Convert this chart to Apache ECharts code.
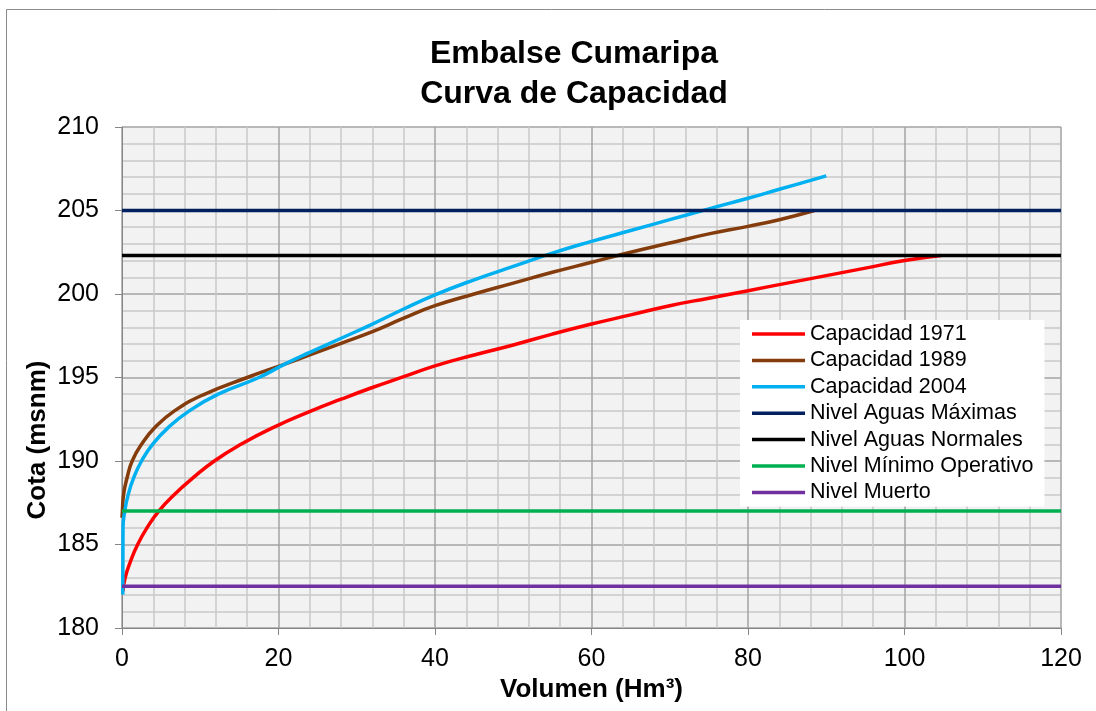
<!DOCTYPE html>
<html>
<head>
<meta charset="utf-8">
<script src="https://cdn.jsdelivr.net/npm/echarts@6/dist/echarts.min.js"></script>
<style>
html,body{margin:0;padding:0;background:#fff;}
#chart{width:1096px;height:711px;}
</style>
</head>
<body>
<div id="chart"></div>
<script>
// Volumen (Hm3) and Cota (msnm)
const vol1971 = [0.12, 0.4, 1.1, 2.0, 3.2, 4.7, 6.7, 9.1, 11.8, 15.2, 19.3, 24.2, 28, 32, 36, 40, 45, 50, 55, 60, 65, 70, 75, 80, 85, 90, 95, 100, 104.7];
const cota1971 = [182.2, 183.0, 184.0, 185.0, 186.0, 187.0, 188.0, 189.0, 190.0, 191.0, 192.0, 193.0, 193.7, 194.4, 195.05, 195.7, 196.35, 196.95, 197.6, 198.2, 198.75, 199.3, 199.75, 200.2, 200.65, 201.1, 201.55, 202.0, 202.3];

const vol1989 = [0, 0.05, 0.2, 0.65, 1.3, 2.5, 4.2, 6.7, 10.3, 16, 20.8, 24, 28, 32, 36, 40, 45, 50, 55, 60, 65, 70, 75, 80, 84, 88.5];
const cota1989 = [186.6, 187.0, 188.0, 189.0, 190.0, 191.0, 192.0, 193.0, 193.95, 195.0, 195.8, 196.35, 197.05, 197.75, 198.55, 199.3, 200.0, 200.65, 201.3, 201.9, 202.5, 203.05, 203.6, 204.05, 204.45, 205.0];

const vol2004 = [0.1, 0.13, 0.35, 0.8, 1.5, 2.5, 3.9, 5.9, 8.6, 12.3, 17.5, 20.8, 24, 28, 32, 36, 40, 45, 50, 55, 60, 65, 70, 75, 80, 84, 88, 90];
const cota2004 = [182.0, 186.0, 187.0, 188.0, 189.0, 190.0, 191.0, 192.0, 193.0, 194.0, 195.0, 195.8, 196.5, 197.35, 198.2, 199.1, 199.95, 200.85, 201.65, 202.45, 203.15, 203.8, 204.45, 205.1, 205.73, 206.27, 206.8, 207.07];

const levelNames = ['Nivel Aguas Máximas', 'Nivel Aguas Normales', 'Nivel Mínimo Operativo', 'Nivel Muerto'];
const levelValues = [205, 202.3, 187, 182.5];
const levelRange = [0, 120];

const curveNames = ['Capacidad 1971', 'Capacidad 1989', 'Capacidad 2004'];

const xTicks = [0, 120, 20];
const yTicks = [180, 210, 5];

function pairs(xs, ys) { return xs.map((x, i) => [x, ys[i]]); }

const curveColors = ['#ff0000', '#843c0c', '#00b0f0'];
const levelColors = ['#002060', '#000000', '#00b050', '#7030a0'];

const series = [];
[[vol1971, cota1971], [vol1989, cota1989], [vol2004, cota2004]].forEach((d, i) => {
  series.push({
    name: curveNames[i], type: 'line', data: pairs(d[0], d[1]),
    smooth: 0.5, showSymbol: false, symbol: 'none',
    lineStyle: { color: curveColors[i], width: 3.5 }, itemStyle: { color: curveColors[i] }
  });
});
levelValues.forEach((v, i) => {
  series.push({
    name: levelNames[i], type: 'line', data: levelRange.map(x => [x, v]),
    showSymbol: false, symbol: 'none',
    lineStyle: { color: levelColors[i], width: 3.5 }, itemStyle: { color: levelColors[i] }
  });
});

const font = '"Liberation Sans", Arial, sans-serif';
const chart = echarts.init(document.getElementById('chart'));
chart.setOption({
  animation: false,
  backgroundColor: '#ffffff',
  textStyle: { fontFamily: font },
  title: {
    text: 'Embalse Cumaripa\nCurva de Capacidad',
    left: 569, top: 29, textAlign: 'center',
    textStyle: { fontFamily: font, fontSize: 32, fontWeight: 'bold', color: '#000', lineHeight: 40 }
  },
  graphic: [
    { type: 'rect', shape: { x: 6.5, y: 9.5, width: 1200, height: 900 }, style: { fill: 'none', stroke: '#8c8c8c', lineWidth: 1 }, silent: true },
    { type: 'text', x: 38, y: 440, rotation: Math.PI / 2,
      style: { text: 'Cota (msnm)', font: 'bold 26px ' + font, fill: '#000', align: 'center', verticalAlign: 'middle' } }
  ],
  legend: {
    orient: 'vertical', left: 740, top: 320,
    backgroundColor: '#ffffff', padding: [3, 11, 3, 12],
    itemWidth: 53, itemHeight: 3.5, itemGap: 4.4, icon: 'rect',
    textStyle: { fontFamily: font, fontSize: 21.5, color: '#000' },
    data: curveNames.concat(levelNames)
  },
  grid: { left: 122, top: 127, right: 35, bottom: 83, show: true, backgroundColor: '#f2f2f2', borderWidth: 0 },
  xAxis: {
    type: 'value', min: xTicks[0], max: xTicks[1], interval: xTicks[2],
    name: 'Volumen (Hm³)', nameLocation: 'middle', nameGap: 49,
    nameTextStyle: { fontFamily: font, fontSize: 26, fontWeight: 'bold', color: '#000' },
    axisLine: { show: true, lineStyle: { color: '#868686', width: 1 } },
    axisTick: { show: true, length: 7, lineStyle: { color: '#868686' } },
    axisLabel: { fontFamily: font, fontSize: 25, color: '#000', margin: 19 },
    splitLine: { show: true, lineStyle: { color: '#a3a3a3', width: 1.5 } },
    minorTick: { show: false, splitNumber: 5 },
    minorSplitLine: { show: true, lineStyle: { color: '#c9c9c9', width: 1.5 } }
  },
  yAxis: {
    type: 'value', min: yTicks[0], max: yTicks[1], interval: yTicks[2],
    axisLine: { show: true, lineStyle: { color: '#868686', width: 1 } },
    axisTick: { show: true, length: 7, lineStyle: { color: '#868686' } },
    axisLabel: { fontFamily: font, fontSize: 25, color: '#000', margin: 23 },
    splitLine: { show: true, lineStyle: { color: '#a3a3a3', width: 1.5 } },
    minorTick: { show: false, splitNumber: 5 },
    minorSplitLine: { show: true, lineStyle: { color: '#c9c9c9', width: 1.5 } }
  },
  series: series
});
</script>
</body>
</html>
